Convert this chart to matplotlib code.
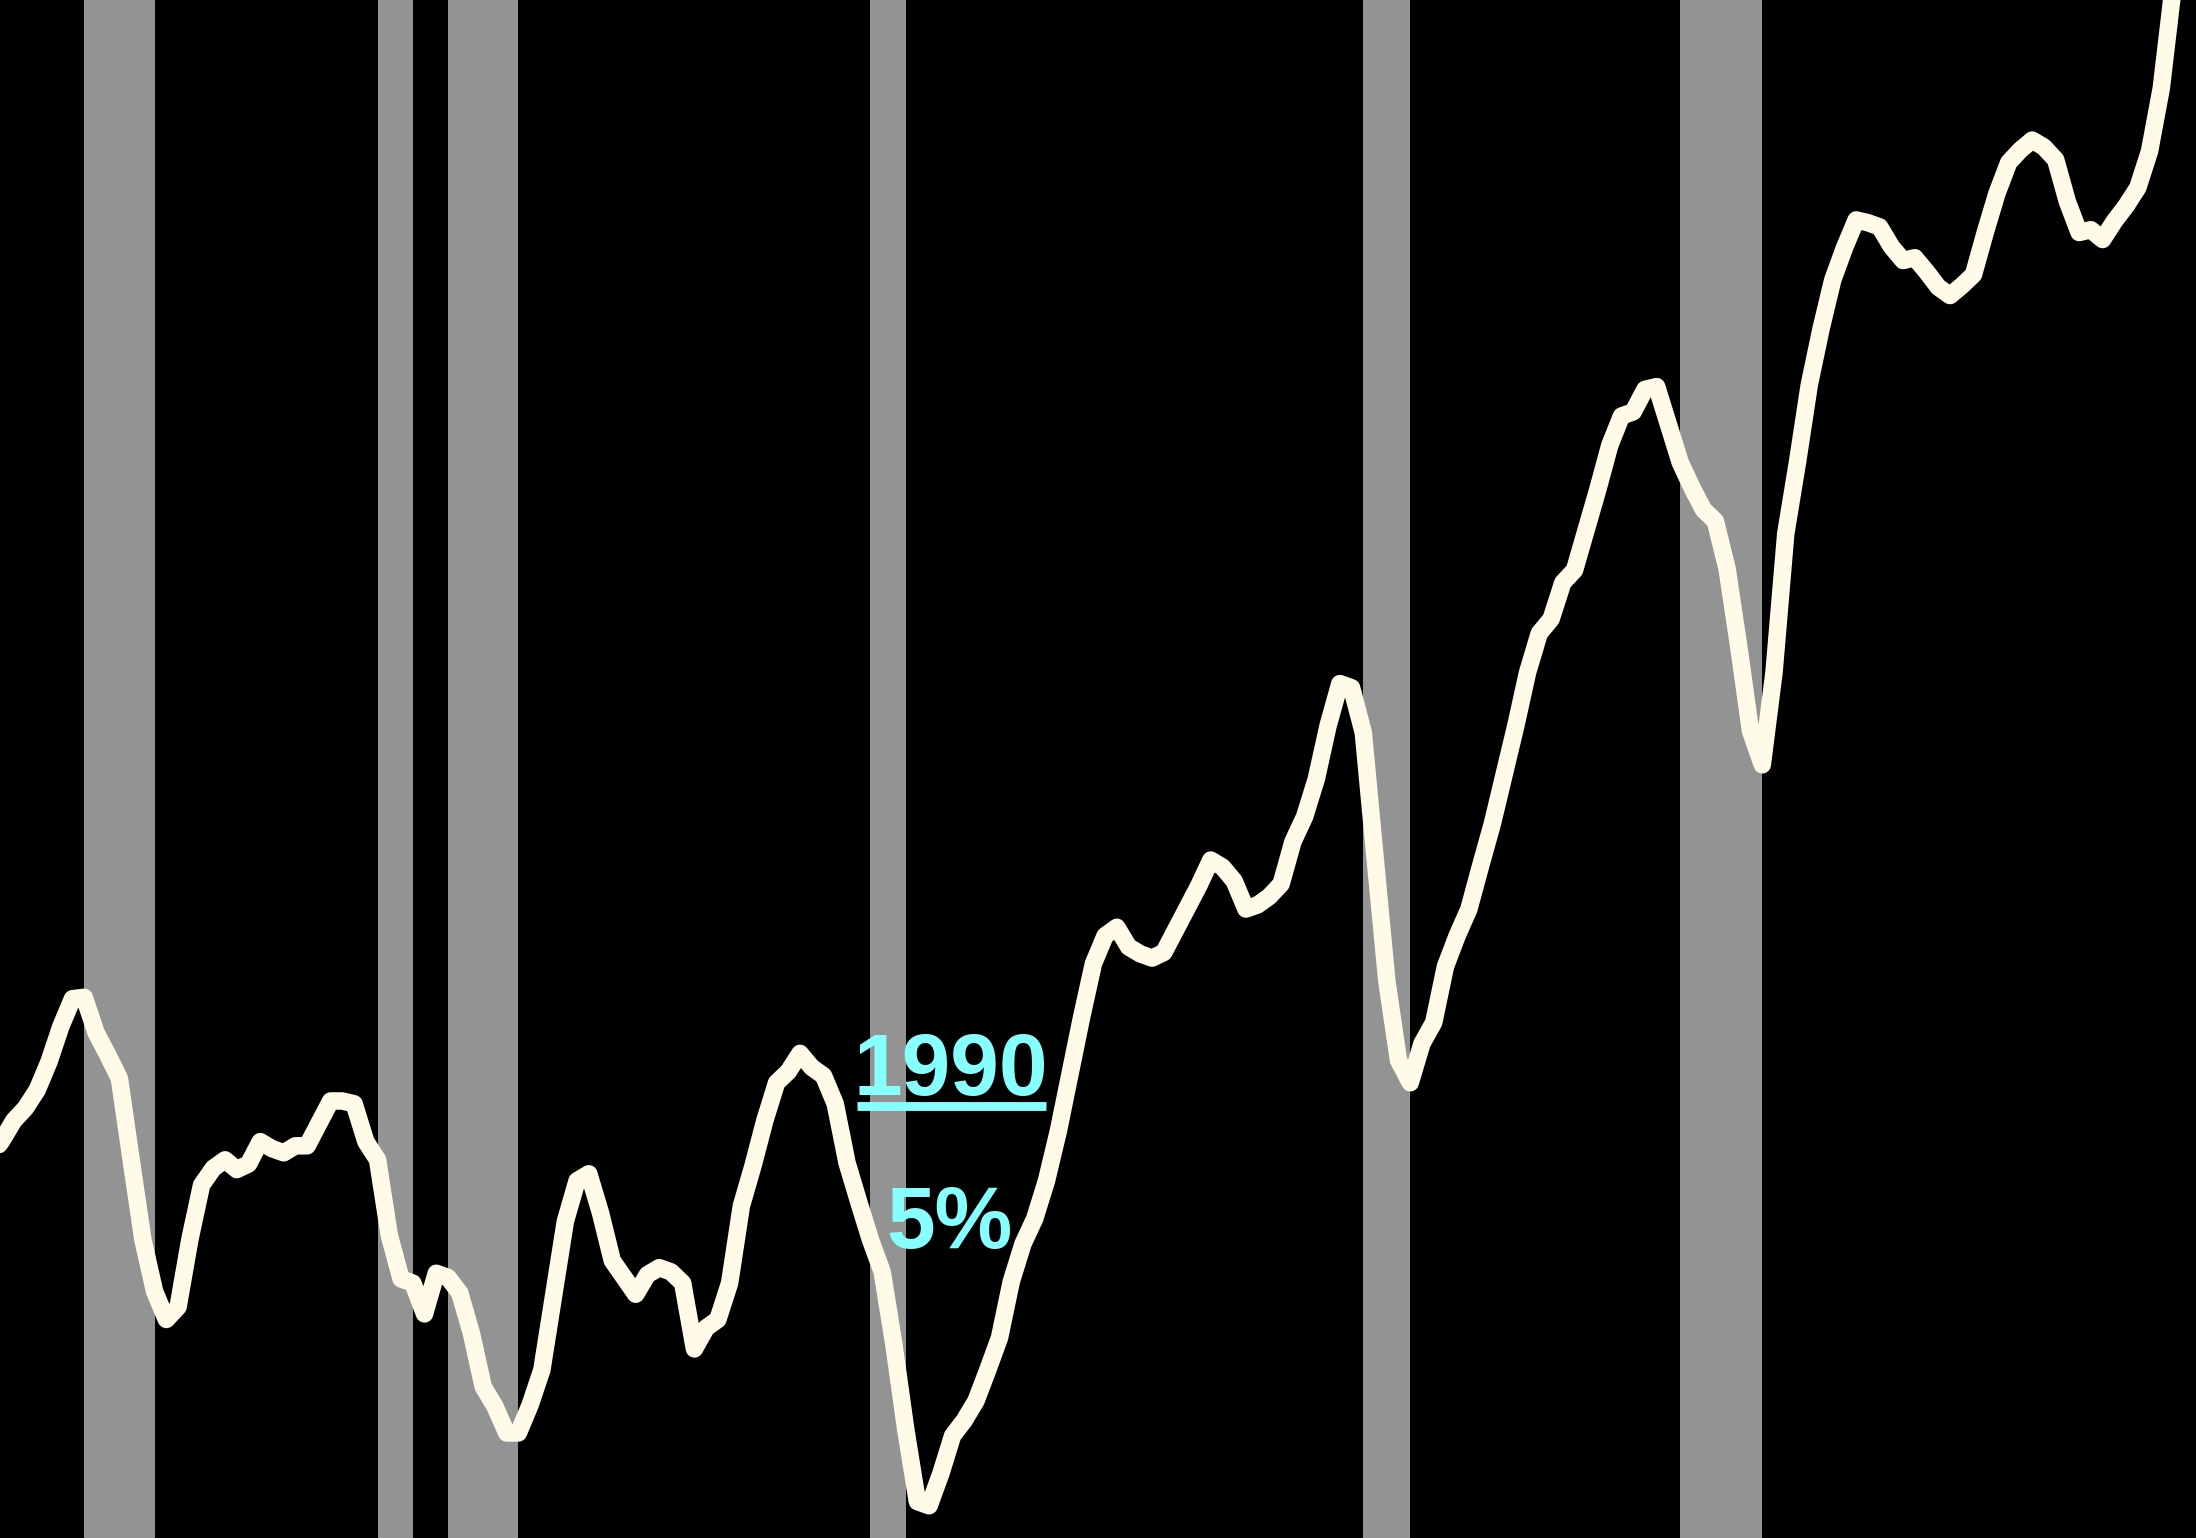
import numpy as np
import pandas as pd
import matplotlib
matplotlib.use("Agg")
import matplotlib.pyplot as plt

# ---- data ----
quarters = pd.period_range("1971Q4", "2018Q2", freq="Q")
values = [
    27.2, 28.4, 29.8, 30.7, 32.0, 34.0, 36.5, 38.5, 38.6, 36.1,
    34.5, 32.8, 27.0, 21.3, 17.6, 15.6, 16.5, 21.3, 25.2, 26.4,
    27.0, 26.3, 26.7, 28.3, 27.8, 27.5, 28.0, 28.0, 29.6, 31.2,
    31.2, 31.0, 28.3, 27.0, 21.6, 18.5, 18.2, 16.0, 18.9, 18.6,
    17.5, 14.6, 10.8, 9.4, 7.5, 7.5, 9.5, 12.0, 17.3, 22.6,
    25.5, 26.0, 23.2, 19.8, 18.6, 17.4, 18.8, 19.3, 19.0, 18.2,
    13.5, 15.0, 15.6, 18.2, 23.7, 26.6, 29.8, 32.5, 33.3, 34.6,
    33.6, 33.0, 31.0, 26.8, 24.0, 21.3, 19.0, 13.8, 7.8, 2.6,
    2.3, 4.6, 7.3, 8.4, 9.8, 12.0, 14.3, 18.3, 21.0, 22.8,
    25.5, 29.0, 33.1, 37.2, 41.0, 43.0, 43.6, 42.2, 41.7, 41.4,
    41.8, 43.4, 45.0, 46.6, 48.4, 47.9, 46.9, 44.9, 45.2, 45.8,
    46.7, 49.7, 51.5, 54.2, 58.0, 61.0, 60.7, 57.5, 48.6, 39.8,
    34.1, 32.5, 35.3, 36.8, 40.8, 43.0, 44.9, 48.0, 51.0, 54.5,
    58.0, 61.8, 64.6, 65.6, 68.2, 69.1, 72.0, 74.9, 78.0, 80.1,
    80.4, 82.0, 82.2, 79.5, 76.8, 75.0, 73.4, 72.6, 69.2, 63.6,
    57.6, 55.2, 61.8, 71.7, 76.8, 82.3, 86.3, 89.8, 92.1, 94.1,
    93.9, 93.6, 92.2, 91.2, 91.4, 90.4, 89.3, 88.7, 89.4, 90.2,
    93.2, 96.0, 98.2, 99.1, 99.8, 99.3, 98.4, 95.4, 93.2, 93.4,
    92.7, 94.0, 95.1, 96.4, 99.0, 103.5, 110.6,
]
recession_peaks = ["1973Q4", "1980Q1", "1981Q3", "1990Q3", "2001Q1", "2007Q4"]
recession_troughs = ["1975Q1", "1980Q3", "1982Q4", "1991Q1", "2001Q4", "2009Q2"]
label_year = "1990"
label_value = "5%"


def qstart(p):
    p = pd.Period(p, freq="Q")
    return p.year + (p.quarter - 1) / 4.0


x = np.array([qstart(q) for q in quarters])
y = np.array(values)

fig = plt.figure(figsize=(10.98, 7.69), dpi=200, facecolor="black")
ax = fig.add_axes([0, 0, 1, 1])
ax.set_facecolor("black")

for pk, tr in zip(recession_peaks, recession_troughs):
    ax.axvspan(qstart(pk), qstart(tr) + 0.25, color="#939393", lw=0, zorder=1)

ax.plot(x, y, color="#FFFBE8", lw=6.3, solid_joinstyle="round",
        solid_capstyle="round", zorder=3)

ax.set_xlim(1971.956, 2018.74)
ax.set_ylim(0, 109.8)
ax.axis("off")

cyan = "#88FFFF"
ax.text(0.4332, 0.288, label_year, transform=ax.transAxes, ha="center",
        va="baseline", fontsize=31.5, fontweight="bold",
        family=["Liberation Sans", "DejaVu Sans"], color=cyan, zorder=4)
ax.plot([0.3901, 0.4763], [0.2808, 0.2808], transform=ax.transAxes,
        color=cyan, lw=3.2, solid_capstyle="butt", zorder=4)
ax.text(0.4322, 0.1884, label_value, transform=ax.transAxes, ha="center",
        va="baseline", fontsize=31.5, fontweight="bold",
        family=["Liberation Sans", "DejaVu Sans"], color=cyan, zorder=4)

fig.savefig("out.png", dpi=200, facecolor="black")
